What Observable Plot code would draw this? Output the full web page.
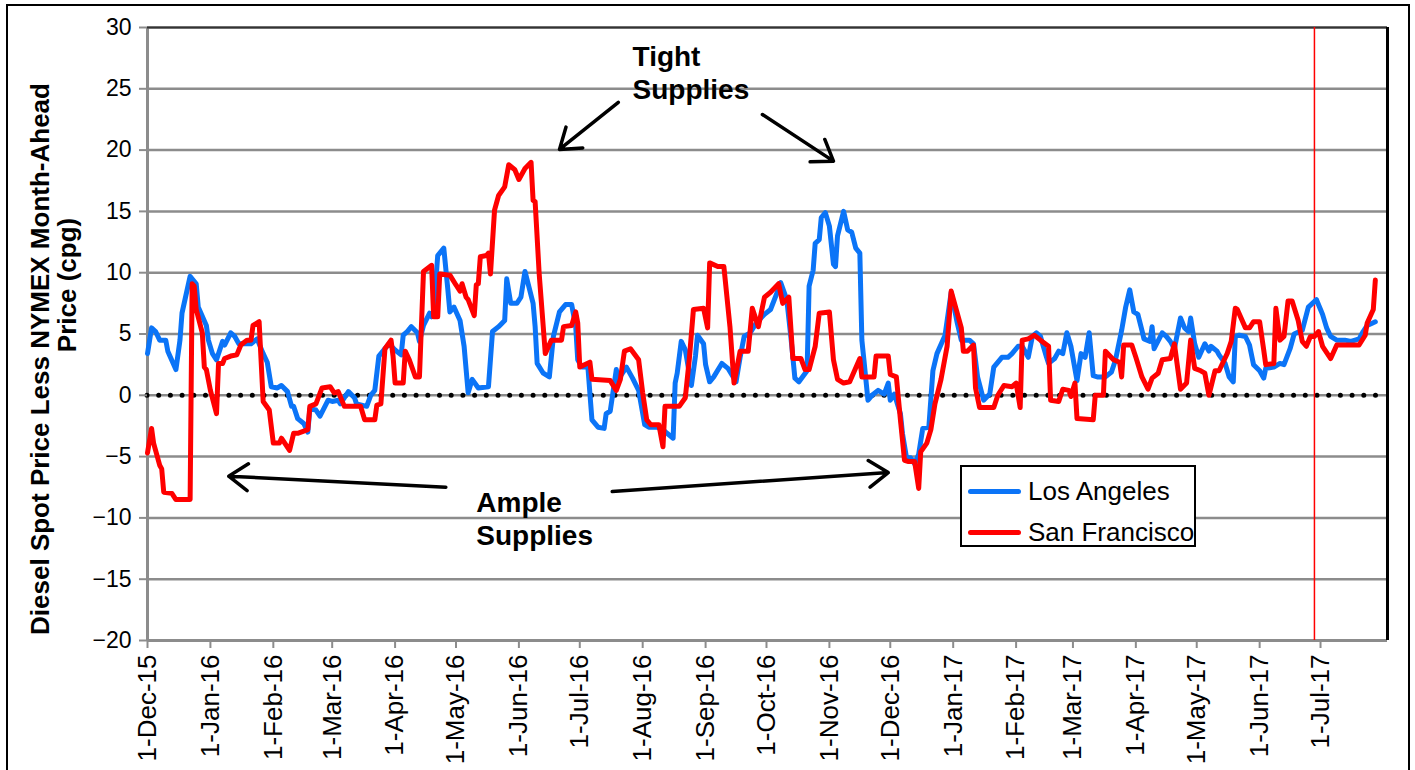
<!DOCTYPE html>
<html><head><meta charset="utf-8">
<script src="https://cdn.jsdelivr.net/npm/d3@7"></script>
<script src="https://cdn.jsdelivr.net/npm/@observablehq/plot@0.6"></script>
<style>
body{margin:0;background:#fff;font-family:"Liberation Sans",Arial,sans-serif;}
#wrap{position:relative;width:1415px;height:770px;overflow:hidden;background:#fff}
#frame{position:absolute;left:6px;top:4px;width:1400px;height:800px;border:2px solid #000;pointer-events:none}
#legend{position:absolute;left:960px;top:465px;width:232px;height:78px;border:2.5px solid #000;background:#fff;font-size:26px;color:#000}
#legend .row{position:absolute;left:6px;height:30px;display:flex;align-items:center;white-space:nowrap}
#legend .sw{display:inline-block;width:53px;height:5px;margin-right:7px;border-radius:3px}
</style></head><body><div id="wrap"><div id="frame"></div></div>
<script>
// ---------- data ----------
const seriesNames = ["Los Angeles", "San Francisco"];
const seriesColors = ["#0b74f7", "#ff0000"];

const laDates = ["2015-12-01","2015-12-03","2015-12-05","2015-12-07","2015-12-10","2015-12-11","2015-12-15","2015-12-17","2015-12-18","2015-12-22","2015-12-25","2015-12-26","2015-12-30","2015-12-31",
"2016-01-02","2016-01-04","2016-01-07","2016-01-08","2016-01-11","2016-01-13","2016-01-15","2016-01-18","2016-01-21","2016-01-24","2016-01-27","2016-01-29","2016-01-31",
"2016-02-03","2016-02-05","2016-02-08","2016-02-10","2016-02-11","2016-02-13","2016-02-16","2016-02-18","2016-02-19","2016-02-22","2016-02-24","2016-02-28",
"2016-03-01","2016-03-04","2016-03-05","2016-03-09","2016-03-12","2016-03-13","2016-03-18","2016-03-20","2016-03-22","2016-03-24","2016-03-27","2016-03-29",
"2016-04-01","2016-04-04","2016-04-05","2016-04-07","2016-04-09","2016-04-12","2016-04-13","2016-04-15","2016-04-18","2016-04-19","2016-04-20","2016-04-22","2016-04-25","2016-04-27","2016-04-28","2016-04-30",
"2016-05-03","2016-05-05","2016-05-07","2016-05-09","2016-05-12","2016-05-17","2016-05-19","2016-05-22","2016-05-25","2016-05-26","2016-05-28","2016-05-31",
"2016-06-02","2016-06-04","2016-06-08","2016-06-09","2016-06-10","2016-06-13","2016-06-16","2016-06-18","2016-06-21","2016-06-24","2016-06-27","2016-06-29","2016-06-30",
"2016-07-02","2016-07-05","2016-07-07","2016-07-10","2016-07-13","2016-07-14","2016-07-16","2016-07-19","2016-07-20","2016-07-24","2016-07-27","2016-07-30",
"2016-08-02","2016-08-04","2016-08-08","2016-08-11","2016-08-13","2016-08-16","2016-08-17","2016-08-18","2016-08-20","2016-08-22","2016-08-25","2016-08-27","2016-08-28","2016-08-31",
"2016-09-01","2016-09-03","2016-09-05","2016-09-09","2016-09-12","2016-09-16","2016-09-18","2016-09-20","2016-09-23","2016-09-26","2016-09-30",
"2016-10-03","2016-10-07","2016-10-08","2016-10-11","2016-10-13","2016-10-15","2016-10-17","2016-10-21","2016-10-22","2016-10-24","2016-10-25","2016-10-27","2016-10-28","2016-10-30",
"2016-11-01","2016-11-03","2016-11-04","2016-11-05","2016-11-08","2016-11-10","2016-11-12","2016-11-14","2016-11-16","2016-11-17","2016-11-18","2016-11-20","2016-11-22","2016-11-25","2016-11-28","2016-11-30",
"2016-12-01","2016-12-03","2016-12-06","2016-12-07","2016-12-09","2016-12-11","2016-12-13","2016-12-15","2016-12-17","2016-12-20","2016-12-22","2016-12-24","2016-12-28","2016-12-31",
"2017-01-03","2017-01-05","2017-01-09","2017-01-11","2017-01-13","2017-01-16","2017-01-19","2017-01-21","2017-01-25","2017-01-28","2017-01-30",
"2017-02-02","2017-02-04","2017-02-07","2017-02-09","2017-02-11","2017-02-13","2017-02-16","2017-02-17","2017-02-20","2017-02-22","2017-02-24","2017-02-26","2017-02-28",
"2017-03-03","2017-03-05","2017-03-07","2017-03-09","2017-03-11","2017-03-13","2017-03-17","2017-03-20","2017-03-22","2017-03-25","2017-03-27","2017-03-29","2017-03-31",
"2017-04-02","2017-04-04","2017-04-05","2017-04-08","2017-04-09","2017-04-10","2017-04-14","2017-04-16","2017-04-18","2017-04-20","2017-04-23","2017-04-25","2017-04-27","2017-04-28","2017-04-30",
"2017-05-02","2017-05-05","2017-05-07","2017-05-08","2017-05-11","2017-05-12","2017-05-15","2017-05-17","2017-05-19","2017-05-20","2017-05-22","2017-05-25","2017-05-27","2017-05-29",
"2017-06-01","2017-06-03","2017-06-04","2017-06-08","2017-06-11","2017-06-13","2017-06-16","2017-06-18","2017-06-22","2017-06-25","2017-06-29",
"2017-07-01","2017-07-02","2017-07-04","2017-07-06","2017-07-09","2017-07-13","2017-07-16","2017-07-20","2017-07-22","2017-07-24","2017-07-28"];
const laValues = [3.4,5.5,5.2,4.5,4.5,3.6,2.1,4.5,6.7,9.7,9.1,7.2,5.7,4.5,
3.4,2.9,4.4,4.1,5.1,4.8,4.2,4.2,4.2,4.6,3.4,2.7,0.7,
0.6,0.8,0.3,-0.9,-0.9,-1.9,-2.3,-3.0,-1.1,-1.2,-1.7,-0.4,
-0.5,-0.4,-0.7,0.3,-0.2,-0.7,-0.9,0,0.4,3.2,3.8,4.2,
3.7,3.3,4.9,5.2,5.6,5.1,4.4,5.7,6.7,6.4,6.8,11.4,12.0,8.6,6.8,7.2,
6.1,4.0,0.2,1.3,0.6,0.7,5.2,5.6,6.1,9.5,7.5,7.5,
8.0,10.1,7.5,5.6,2.6,1.8,1.5,4.8,6.8,7.4,7.4,5.6,2.9,
2.3,2.3,-2.0,-2.6,-2.7,-1.5,-1.3,2.1,1.3,2.3,1.4,0.4,
-2.4,-2.6,-2.6,-2.8,-3.1,-3.5,1.0,1.8,4.4,3.7,0.8,3.2,4.9,4.2,
2.5,1.1,1.5,2.6,2.2,1.1,3.1,4.8,5.1,5.9,6.6,
7.0,8.7,9.2,7.8,4.8,1.4,1.1,2.0,8.9,10.2,12.4,12.7,14.5,14.9,
13.8,10.7,10.5,13.0,15.0,13.5,13.3,12.0,11.6,4.5,2.9,-0.4,0,0.4,0.1,1.0,
-0.4,0.1,-1.5,-3.1,-5.1,-5.1,-5.6,-4.8,-2.7,-2.6,2.0,3.4,4.9,8.4,
5.9,4.5,4.5,4.2,1.5,-0.4,0.1,2.3,3.1,3.1,3.4,
4.0,4.0,3.1,4.8,5.1,4.8,3.1,2.6,3.0,3.6,3.4,5.1,4.0,
1.2,3.4,3.1,5.1,1.6,1.5,1.5,1.9,2.9,5.3,7.2,8.6,6.8,
6.6,5.3,4.6,4.4,5.6,3.8,5.1,4.8,4.4,3.8,6.3,5.5,5.2,6.3,4.2,
3.1,4.2,3.6,4.0,3.6,3.3,2.6,1.5,1.1,4.8,4.9,4.8,4.1,2.5,
2.0,1.4,2.2,2.3,2.6,2.5,3.8,5.0,5.3,7.2,7.8,
7.0,6.6,5.5,4.8,4.5,4.5,4.4,4.6,5.2,5.7,6.0];

const sfDates = ["2015-12-01","2015-12-03","2015-12-04","2015-12-07","2015-12-08","2015-12-09","2015-12-13","2015-12-15","2015-12-22","2015-12-23","2015-12-24","2015-12-25","2015-12-28","2015-12-29","2015-12-30",
"2016-01-01","2016-01-04","2016-01-05","2016-01-07","2016-01-08","2016-01-11","2016-01-14","2016-01-16","2016-01-19","2016-01-21","2016-01-22","2016-01-25","2016-01-27","2016-01-30",
"2016-02-01","2016-02-04","2016-02-05","2016-02-09","2016-02-11","2016-02-13","2016-02-18","2016-02-19","2016-02-22","2016-02-25","2016-02-29",
"2016-03-02","2016-03-04","2016-03-07","2016-03-15","2016-03-17","2016-03-22","2016-03-23","2016-03-25","2016-03-27","2016-03-30","2016-03-31",
"2016-04-01","2016-04-05","2016-04-06","2016-04-08","2016-04-11","2016-04-13","2016-04-15","2016-04-19","2016-04-20","2016-04-22","2016-04-23","2016-04-28",
"2016-05-01","2016-05-03","2016-05-04","2016-05-06","2016-05-07","2016-05-10","2016-05-11","2016-05-12","2016-05-13","2016-05-16","2016-05-17","2016-05-18","2016-05-20","2016-05-22","2016-05-25","2016-05-27","2016-05-30",
"2016-06-01","2016-06-04","2016-06-07","2016-06-08","2016-06-09","2016-06-11","2016-06-13","2016-06-14","2016-06-17","2016-06-22","2016-06-23","2016-06-27","2016-06-29","2016-06-30",
"2016-07-01","2016-07-06","2016-07-07","2016-07-16","2016-07-19","2016-07-21","2016-07-23","2016-07-26","2016-07-30",
"2016-08-01","2016-08-03","2016-08-05","2016-08-09","2016-08-11","2016-08-12","2016-08-19","2016-08-22","2016-08-24","2016-08-26","2016-08-31",
"2016-09-02","2016-09-03","2016-09-07","2016-09-10","2016-09-13","2016-09-15","2016-09-18","2016-09-22","2016-09-24","2016-09-27","2016-09-30",
"2016-10-03","2016-10-07","2016-10-09","2016-10-12","2016-10-14","2016-10-18","2016-10-20","2016-10-22","2016-10-25","2016-10-27",
"2016-11-01","2016-11-03","2016-11-05","2016-11-08","2016-11-11","2016-11-16","2016-11-17","2016-11-23","2016-11-24","2016-11-30",
"2016-12-01","2016-12-04","2016-12-06","2016-12-08","2016-12-10","2016-12-13","2016-12-15","2016-12-16","2016-12-19","2016-12-21","2016-12-23","2016-12-26","2016-12-29","2016-12-31",
"2017-01-05","2017-01-06","2017-01-08","2017-01-11","2017-01-12","2017-01-14","2017-01-21","2017-01-23","2017-01-26","2017-01-30",
"2017-02-01","2017-02-03","2017-02-04","2017-02-07","2017-02-10","2017-02-13","2017-02-17","2017-02-18","2017-02-22","2017-02-24","2017-02-27","2017-02-28",
"2017-03-02","2017-03-03","2017-03-11","2017-03-12","2017-03-16","2017-03-17","2017-03-21","2017-03-24","2017-03-25","2017-03-26","2017-03-30",
"2017-04-01","2017-04-04","2017-04-07","2017-04-09","2017-04-12","2017-04-14","2017-04-18","2017-04-20","2017-04-23","2017-04-26","2017-04-28","2017-04-30",
"2017-05-03","2017-05-05","2017-05-07","2017-05-10","2017-05-12","2017-05-16","2017-05-18","2017-05-20","2017-05-21","2017-05-25","2017-05-27","2017-05-29",
"2017-06-01","2017-06-03","2017-06-04","2017-06-08","2017-06-09","2017-06-11","2017-06-13","2017-06-15","2017-06-17","2017-06-20","2017-06-22","2017-06-24","2017-06-26","2017-06-28","2017-06-30",
"2017-07-02","2017-07-06","2017-07-09","2017-07-20","2017-07-23","2017-07-24","2017-07-27","2017-07-28"];
const sfValues = [-4.7,-2.7,-3.9,-5.7,-6.0,-7.9,-8.0,-8.5,-8.5,9.1,8.9,7.0,5.1,2.3,2.1,
0.4,-1.5,2.6,2.6,3.0,3.2,3.3,4.1,4.5,4.5,5.7,6.0,-0.5,-1.2,
-3.9,-3.9,-3.5,-4.5,-3.1,-3.1,-2.8,-0.9,-0.7,0.6,0.7,
0.2,0.3,-0.9,-0.9,-2.0,-2.0,-0.8,-0.7,3.8,4.5,3.2,
1.0,1.0,3.6,2.9,1.5,1.5,10.1,10.6,6.4,6.4,9.9,9.8,
9.0,8.5,9.1,8.0,7.8,6.5,9.0,9.1,11.3,11.4,11.6,9.9,15.1,16.3,17.0,18.8,18.4,
17.6,18.5,19.0,15.9,15.8,9.9,5.6,3.4,4.5,4.5,5.6,5.7,6.8,5.9,
2.3,2.7,1.3,1.2,0.4,1.3,3.6,3.8,2.9,
0.2,-2.0,-2.4,-2.4,-4.2,-0.9,-0.9,-0.2,3.0,7.0,7.1,
5.5,10.8,10.5,10.5,5.6,1.0,3.6,3.6,7.1,5.6,8.0,
8.4,9.1,7.5,8.0,3.0,3.0,2.1,2.1,4.0,6.7,
6.8,2.9,1.3,1.0,1.1,3.0,1.5,1.5,3.2,3.2,
1.7,1.5,-2.0,-5.3,-5.4,-5.4,-7.6,-4.6,-3.9,-2.8,-0.7,1.3,4.0,8.5,
5.5,3.6,3.6,4.1,0.6,-1.0,-1.0,0,0.8,0.7,
1.0,-1.0,4.5,4.6,4.9,4.5,4.0,-0.4,-0.5,0.5,0.4,-0.1,
1.0,-1.9,-2.0,0,0,3.6,2.9,2.7,1.5,4.1,4.1,
3.1,1.5,0.5,1.4,1.8,2.9,3.0,4.2,0.5,1.0,4.5,2.2,
2.0,1.8,0,2.0,2.0,3.4,4.4,7.1,7.0,5.5,5.5,6.0,
6.0,3.7,2.5,2.6,7.1,4.5,4.8,7.7,7.7,6.1,4.4,4.0,4.8,4.8,5.2,
4.0,3.0,4.1,4.1,4.9,5.9,7.0,9.4];

const xStart = "2015-12-01", xEnd = "2017-08-03";
const monthTicks = ["2015-12-01","2016-01-01","2016-02-01","2016-03-01","2016-04-01","2016-05-01","2016-06-01","2016-07-01","2016-08-01","2016-09-01","2016-10-01","2016-11-01","2016-12-01","2017-01-01","2017-02-01","2017-03-01","2017-04-01","2017-05-01","2017-06-01","2017-07-01"];
const yTicks = [-20,-15,-10,-5,0,5,10,15,20,25,30];
const markerDate = "2017-06-28";
const yTitleLines = ["Diesel Spot Price Less NYMEX Month-Ahead", "Price (cpg)"];

// annotations
const noteText = ["Tight", "Supplies", "Ample", "Supplies"];
const noteDates = ["2016-07-27", "2016-07-27", "2016-05-11", "2016-05-11"];
const noteValues = [27.6, 24.9, -8.75, -11.5];
const arrowFromDates = ["2016-07-20", "2016-09-29", "2016-04-26", "2016-07-17"];
const arrowFromValues = [23.9, 22.9, -7.5, -7.85];
const arrowToDates = ["2016-06-21", "2016-11-03", "2016-01-10", "2016-11-30"];
const arrowToValues = [20.05, 19.1, -6.6, -6.3];

// ---------- build ----------
const parse = d3.utcParse("%Y-%m-%d");
const la = laDates.map((d, i) => ({date: parse(d), value: laValues[i]}));
const sf = sfDates.map((d, i) => ({date: parse(d), value: sfValues[i]}));
const notes = noteText.map((t, i) => ({text: t, date: parse(noteDates[i]), value: noteValues[i]}));
const arrows = arrowFromDates.map((d, i) => ({x1: parse(d), y1: arrowFromValues[i], x2: parse(arrowToDates[i]), y2: arrowToValues[i]}));
const fmt = d3.utcFormat("%-d-%b-%y");
const gridGrey = "#8c8c8c";

const chart = Plot.plot({
  width: 1415, height: 770,
  marginLeft: 147, marginRight: 28, marginTop: 27, marginBottom: 130,
  style: {fontFamily: '"Liberation Sans", Arial, sans-serif', background: "transparent", overflow: "visible", color: "#000"},
  x: {type: "utc", domain: [parse(xStart), parse(xEnd)]},
  y: {domain: [yTicks[0], yTicks[yTicks.length - 1]]},
  marks: [
    Plot.gridY(yTicks, {stroke: gridGrey, strokeOpacity: 1, strokeWidth: 2.5}),
    Plot.ruleX([parse(xStart)], {stroke: gridGrey, strokeWidth: 3}),
    Plot.ruleY([yTicks[0]], {stroke: gridGrey, strokeWidth: 3}),
    Plot.ruleY([yTicks[yTicks.length - 1]], {stroke: "#333", strokeWidth: 2}),
    Plot.ruleX([parse(xEnd)], {stroke: "#000", strokeWidth: 3}),
    Plot.ruleY([0], {stroke: "#000", strokeWidth: 5, strokeDasharray: "0 11.7", strokeLinecap: "round"}),
    Plot.axisY({ticks: yTicks, tickSize: 8, tickPadding: 8, fontSize: 23, label: null, stroke: gridGrey, strokeWidth: 2}),
    Plot.axisX({ticks: monthTicks.map(parse), tickFormat: fmt, tickRotate: -90, tickSize: 8, tickPadding: 6, fontSize: 26, label: null, stroke: gridGrey, strokeWidth: 2}),
    Plot.ruleX([parse(markerDate)], {stroke: "#ff0000", strokeWidth: 1.5}),
    Plot.line(la, {x: "date", y: "value", stroke: seriesColors[0], strokeWidth: 5, strokeLinejoin: "round"}),
    Plot.line(sf, {x: "date", y: "value", stroke: seriesColors[1], strokeWidth: 5, strokeLinejoin: "round"}),
    Plot.arrow(arrows, {x1: "x1", y1: "y1", x2: "x2", y2: "y2", stroke: "#000", strokeWidth: 3.5, headLength: 10, headAngle: 70}),
    Plot.text(notes, {x: "date", y: "value", text: "text", textAnchor: "start", fontSize: 28, fontWeight: "bold", fill: "#000"})
  ]
});

const svg = d3.select(chart);
svg.append("text").attr("transform", "translate(40,359) rotate(-90)")
  .attr("text-anchor", "middle").attr("dominant-baseline", "central")
  .attr("font-size", 26).attr("font-weight", "bold").attr("fill", "#000").text(yTitleLines[0]);
svg.append("text").attr("transform", "translate(67,285) rotate(-90)")
  .attr("text-anchor", "middle").attr("dominant-baseline", "central")
  .attr("font-size", 26).attr("font-weight", "bold").attr("fill", "#000").text(yTitleLines[1]);

const wrap = document.getElementById("wrap");
wrap.insertBefore(chart, wrap.firstChild);
chart.style.position = "absolute"; chart.style.left = "0"; chart.style.top = "0";

// legend
const legend = document.createElement("div");
legend.id = "legend";
seriesNames.forEach((name, i) => {
  const row = document.createElement("div");
  row.className = "row";
  row.style.top = (i === 0 ? 9 : 50) + "px";
  const sw = document.createElement("span");
  sw.className = "sw"; sw.style.background = seriesColors[i];
  row.appendChild(sw);
  row.appendChild(document.createTextNode(name));
  legend.appendChild(row);
});
wrap.appendChild(legend);
</script>
</body></html>
